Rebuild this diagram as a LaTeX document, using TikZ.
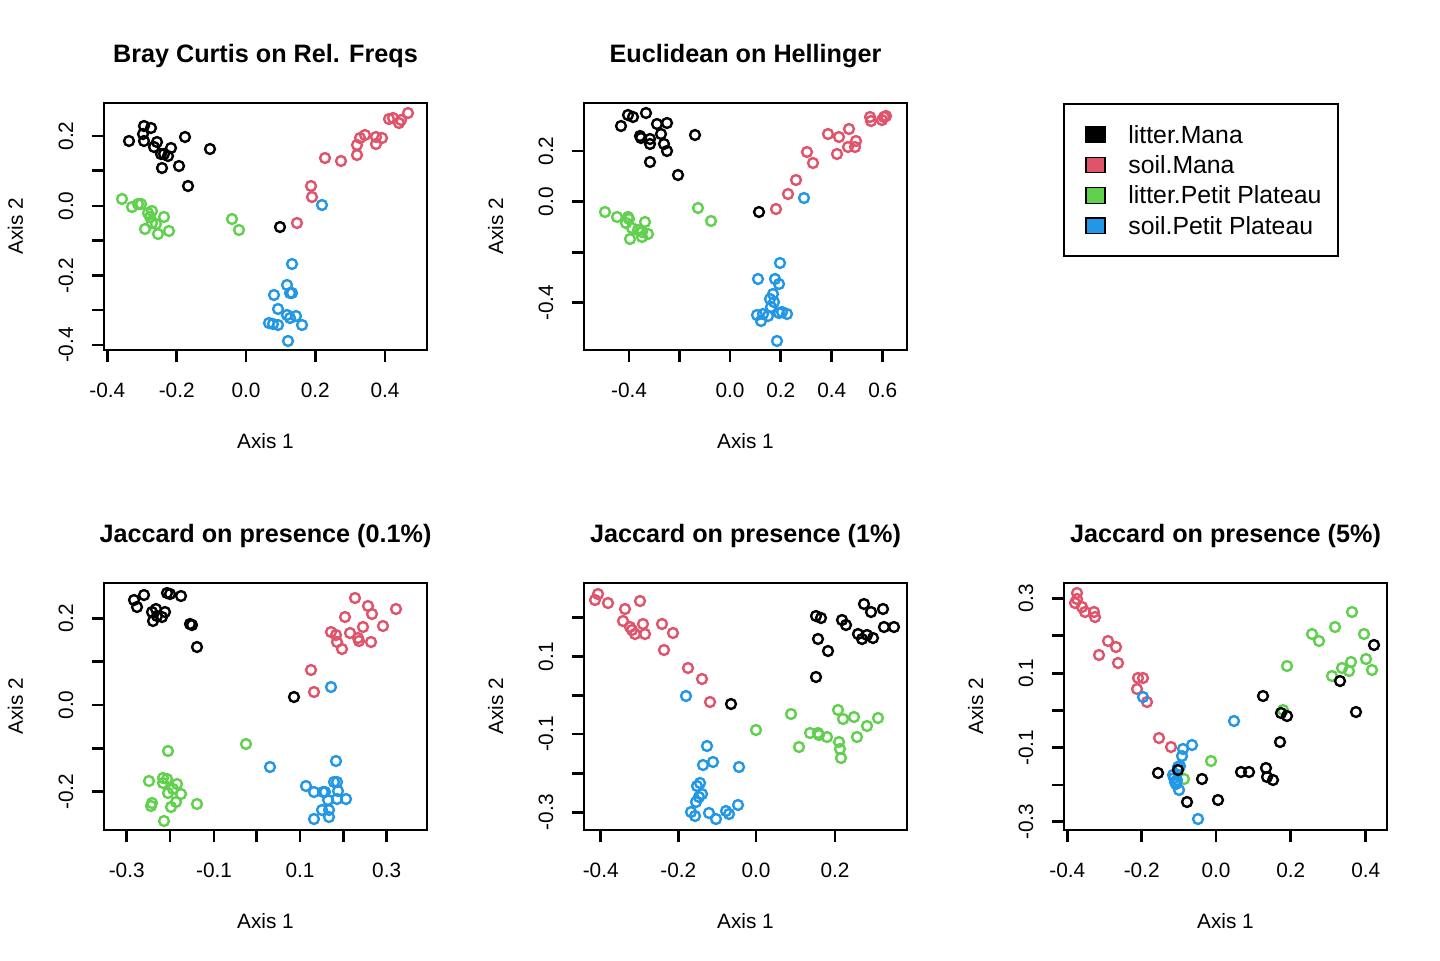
\documentclass[tikz,border=0pt]{standalone}
\usepackage{fontspec}
\setmainfont{Liberation Sans}
\definecolor{cblk}{HTML}{000000}
\definecolor{cred}{HTML}{DF536B}
\definecolor{cgrn}{HTML}{61D04F}
\definecolor{cblu}{HTML}{2297E6}
\tikzset{
  frame/.style={draw=black, line width=1.25pt},
  tickline/.style={draw=black, line width=1.25pt},
  ticklab/.style={inner sep=0pt, font=\fontsize{10.4}{12}\selectfont},
  axlab/.style={inner sep=0pt, font=\fontsize{10.4}{12}\selectfont},
  ttl/.style={inner sep=0pt, font=\fontsize{12.6}{15}\selectfont\bfseries},
  dot/.style={circle, draw, fill=none, line width=1.2pt, minimum size=4.95pt, inner sep=0pt, outer sep=0pt},
  legbox/.style={draw=black, line width=0.6pt},
  legtxt/.style={inner sep=0pt, anchor=base west, font=\fontsize{12.4}{14}\selectfont}
}
% #1 panel id, #2 left, #3 top, #4 title
\newcommand\mypanel[4]{%
  \draw[frame] (#2,#3) rectangle ++(323,247);
  \node[ttl, anchor=base] (#1title) at (#2+161.5,#3-40.5) {#4};
  \node[axlab, anchor=base] (#1xlab) at (#2+161.5,#3+247+98) {Axis 1};
  \node[axlab, anchor=base, rotate=90] (#1ylab) at (#2-81,#3+123.5) {Axis 2};
}
% #1 panel id, #2 bottom y, #3 list x/label
\newcommand\myxticks[3]{%
  \foreach \tx/\tl [count=\i] in {#3} {
    \draw[tickline] (\tx,#2) -- (\tx,#2+12);
    \node[ticklab, anchor=base] (#1xt\i) at (\tx,#2+47) {\tl};
  }
}
% #1 panel id, #2 left x, #3 list y/label
\newcommand\myyticks[3]{%
  \foreach \ty/\tl [count=\i] in {#3} {
    \draw[tickline] (#2,\ty) -- (#2-12,\ty);
    \node[ticklab, anchor=base, rotate=90] (#1yt\i) at (#2-31,\ty) {\tl};
  }
}
% #1 colour, #2 name prefix, #3 list
\newcommand\mypts[3]{%
  \foreach \px/\py [count=\i] in {#3} { \node[dot, draw=#1] (#2\i) at (\px,\py) {}; }
}
\begin{document}
\begin{tikzpicture}[x=0.5pt,y=-0.5pt]
\useasboundingbox (0,0) rectangle (1440,960);
\fill[white] (0,0) rectangle (1440,960);

% ---------- Panel 1 ----------
\mypanel{pa}{104}{103}{Bray Curtis on Rel. Freqs}
\myxticks{pa}{350}{107.3/-0.4, 176.7/-0.2, 246/0.0, 315.3/0.2, 385/0.4}
\myyticks{pa}{104}{136/0.2, 170.7/{}, 206/0.0, 240.7/{}, 275.7/-0.2, 310/{}, 345/-0.4}
\mypts{cblk}{pak}{129/141, 144/126, 151/128, 143/134, 144/141, 157/142, 154/147, 171/148, 185/137, 210/149, 161/154, 164/154, 168/156, 162/168, 179/166, 188/186, 280/227}
\mypts{cred}{par}{408/113, 389/119, 393/118, 399/123, 401/120, 365/135, 360/138, 376/137, 382/138, 357/145, 376/144, 325/158, 341/161, 357/155, 311/186, 312/197, 297/223}
\mypts{cgrn}{pag}{122/199, 132/207, 138/204, 141/204, 148/213, 152/211, 150/217, 164/217, 152/223, 156/224, 145/229, 158/234, 169/231, 232/219, 239/230}
\mypts{cblu}{pab}{322/205, 292/264, 287/285, 292/293, 290/293, 274/295, 278/309, 287/315, 296/316, 290/318, 269/323, 273/324, 278/325, 302/325, 288/341}

% ---------- Panel 2 ----------
\mypanel{pb}{584}{103}{Euclidean on Hellinger}
\myxticks{pb}{350}{629/-0.4, 679.3/{}, 730/0.0, 780.7/0.2, 831.7/0.4, 882.7/0.6}
\myyticks{pb}{584}{151/0.2, 201.7/0.0, 252.3/{}, 302.7/-0.4}
\mypts{cblk}{pbk}{628/115, 633/117, 646/113, 621/126, 657/124, 667/123, 640/136, 641/138, 650/139, 650/144, 661/134, 664/144, 667/151, 695/135, 650/162, 678/175, 759/212}
\mypts{cred}{pbr}{870/117, 871/121, 882/120, 884/117, 886/116, 828/134, 839/137, 849/129, 856/141, 848/147, 855/147, 837/154, 807/152, 813/163, 796/180, 788/194, 776/209}
\mypts{cgrn}{pbg}{605/212, 617/217, 628/217, 629/219, 626/223, 632/228, 638/230, 645/222, 642/232, 648/234, 642/237, 630/239, 698/208, 711/221}
\mypts{cblu}{pbb}{804/198, 780/263, 758/279, 775/279, 779/284, 773/294, 770/299, 774/302, 771/307, 757/315, 763/314, 768/316, 761/321, 779/313, 782/312, 787/314, 777/341}

% ---------- Legend ----------
\draw[draw=black, line width=0.85pt] (1064,104) rectangle (1338,256);
\foreach \c/\t/\yy [count=\i] in {cblk/litter.Mana/134.5, cred/soil.Mana/165, cgrn/litter.Petit Plateau/195.3, cblu/soil.Petit Plateau/225.8} {
  \draw[legbox, fill=\c] (1086,\yy-7.8) rectangle (1105,\yy+7.8);
  \node[legtxt] (leg\i) at (1128,\yy+8.5) {\t};
}

% ---------- Panel 3 ----------
\mypanel{pc}{104}{583}{Jaccard on presence (0.1\%)}
\myxticks{pc}{830}{126.7/-0.3, 170/{}, 214/-0.1, 256.7/{}, 300/0.1, 343.3/{}, 386.7/0.3}
\myyticks{pc}{104}{618.3/0.2, 661.7/{}, 705/0.0, 748.3/{}, 791.7/-0.2}
\mypts{cblk}{pck}{134/600, 144/595, 137/607, 167/593, 170/594, 181/596, 152/612, 156/609, 165/612, 157/616, 162/617, 153/621, 190/624, 192/625, 197/647, 294/697}
\mypts{cred}{pcr}{355/598, 368/606, 396/609, 372/614, 345/617, 363/627, 383/626, 331/632, 336/635, 350/633, 358/638, 359/641, 337/642, 371/642, 342/649, 311/670, 314/692}
\mypts{cgrn}{pcg}{168/751, 246/744, 149/781, 163/778, 167/779, 163/783, 177/784, 173/789, 168/793, 181/794, 197/804, 152/803, 151/806, 176/802, 171/807, 164/821}
\mypts{cblu}{pcb}{331/687, 270/767, 336/761, 334/782, 337/782, 306/786, 314/792, 323/792, 325/792, 338/791, 328/800, 337/799, 346/799, 322/810, 329/810, 314/819, 329/817}

% ---------- Panel 4 ----------
\mypanel{pd}{584}{583}{Jaccard on presence (1\%)}
\myxticks{pd}{830}{600.7/-0.4, 678.3/-0.2, 756/0.0, 835/0.2}
\myyticks{pd}{584}{617.7/{}, 656.7/0.1, 695.7/{}, 734/-0.1, 773.3/{}, 812.3/-0.3}
\mypts{cred}{pdr}{598/594, 595/600, 608/603, 640/601, 625/609, 623/621, 630/627, 632/630, 635/634, 643/624, 645/634, 662/624, 673/633, 664/650, 688/668, 702/679, 710/702}
\mypts{cblk}{pdk}{864/604, 883/609, 871/612, 816/616, 821/618, 842/620, 846/625, 884/627, 894/627, 858/634, 867/635, 862/639, 873/638, 818/639, 828/651, 816/677, 731/704}
\mypts{cblu}{pdb}{686/696, 707/746, 703/765, 713/762, 739/767, 700/783, 697/786, 702/794, 699/797, 696/802, 691/812, 695/816, 709/813, 716/819, 726/811, 729/814, 738/805}
\mypts{cgrn}{pdg}{791/714, 756/730, 838/710, 843/719, 854/717, 878/718, 867/726, 810/733, 818/733, 819/735, 827/737, 857/737, 799/747, 839/742, 840/749, 841/758}

% ---------- Panel 5 ----------
\mypanel{pe}{1064}{583}{Jaccard on presence (5\%)}
\myxticks{pe}{830}{1067.3/-0.4, 1141.7/-0.2, 1216/0.0, 1290.7/0.2, 1365.7/0.4}
\myyticks{pe}{1064}{598.3/0.3, 635.7/{}, 673.3/0.1, 710.7/{}, 747.7/-0.1, 785/{}, 821.7/-0.3}
\mypts{cred}{per}{1077/593, 1077/599, 1075/603, 1082/607, 1085/612, 1094/612, 1095/617, 1108/641, 1116/647, 1099/655, 1118/663, 1138/678, 1143/678, 1137/689, 1147/702, 1159/738, 1171/747}
\mypts{cgrn}{peg}{1312/634, 1319/641, 1335/627, 1352/612, 1364/634, 1287/666, 1366/659, 1372/670, 1351/662, 1342/668, 1349/671, 1332/676, 1283/710, 1211/761, 1184/779}
\mypts{cblu}{peb}{1143/697, 1234/721, 1192/745, 1183/749, 1182/756, 1180/766, 1178/767, 1173/775, 1174/778, 1177/780, 1176/784, 1175/782, 1179/790, 1198/819}
\mypts{cblk}{pek}{1374/645, 1340/681, 1356/712, 1263/696, 1281/713, 1287/716, 1280/742, 1158/773, 1178/770, 1202/779, 1187/802, 1218/800, 1241/772, 1249/772, 1266/768, 1267/777, 1273/780}
\end{tikzpicture}
\end{document}
